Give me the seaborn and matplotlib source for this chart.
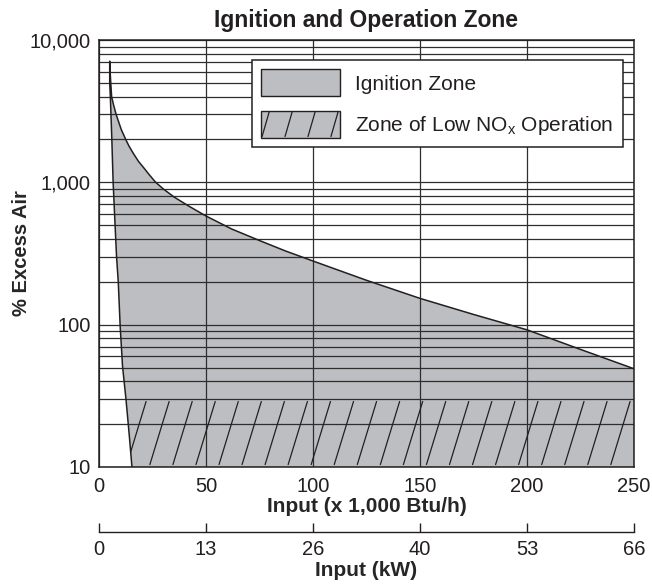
import numpy as np
import matplotlib
matplotlib.use("Agg")
import matplotlib.pyplot as plt
from matplotlib.patches import Patch, Rectangle
from matplotlib.lines import Line2D
from matplotlib.legend_handler import HandlerPatch
from matplotlib.ticker import FuncFormatter, NullFormatter, LogLocator, FixedLocator
import seaborn as sns

# --- data ---
# ignition zone, left boundary (bottom -> tip)
left_x = [15.4, 14.1, 12.6, 11.0, 9.9, 9.0, 8.2, 7.4, 6.6, 6.0, 5.3, 5.0, 5.0]
left_y = [10, 17, 30, 51, 97, 200, 300, 544, 1000, 2000, 4000, 5000, 7100]
# ignition zone, upper curve (tip -> right edge)
top_x = [5.0, 5.2, 5.5, 5.9, 6.8, 8.0, 10.4, 12.5, 14, 16, 18.5, 21, 23.5,
         26.5, 30, 35, 42, 50, 62, 75, 87, 100, 125, 150, 175, 200, 225, 250]
top_y = [7100, 6000, 5000, 4000, 3500, 3000, 2350, 2000, 1800, 1600, 1400,
         1260, 1130, 1000, 900, 790, 680, 580, 470, 390, 330, 280, 205, 153,
         118, 92, 67, 49]
# low NOx operating band (% excess air)
nox_y = [10, 30]

btu_ticks = [0, 50, 100, 150, 200, 250]
kw_labels = ["0", "13", "26", "40", "53", "66"]
y_ticks = [10, 100, 1000, 10000]

FILL = "#bdbec1"
INK = "#231f20"
GRID = "#2e2e2e"

sns.set_theme(style="white")
plt.rcParams["font.family"] = ["Liberation Sans", "DejaVu Sans"]
plt.rcParams["text.color"] = INK
plt.rcParams["mathtext.fontset"] = "custom"
plt.rcParams["mathtext.rm"] = "Liberation Sans"


class SlashHandler(HandlerPatch):
    # legend swatch with a few steep strokes like the chart hatch
    def create_artists(self, legend, orig_handle, xdescent, ydescent,
                       width, height, fontsize, trans):
        x0, y0 = -xdescent, -ydescent
        arts = [Rectangle((x0, y0), width, height, facecolor=FILL,
                          edgecolor=INK, lw=1.0, transform=trans)]
        for f in (0.0, 0.29, 0.58, 0.87):
            xb = x0 + (f + 0.01) * width
            arts.append(Line2D([xb, xb + 0.09 * width],
                               [y0 + 0.04 * height, y0 + 0.96 * height],
                               color=INK, lw=0.9, transform=trans))
        return arts


fig = plt.figure(figsize=(6.52, 5.85), dpi=100)
ax = fig.add_axes([99 / 652, 1 - 467 / 585, 535 / 652, 427 / 585])

# ignition zone polygon
poly_x = left_x + top_x[1:] + [250]
poly_y = left_y + top_y[1:] + [10]
zone = ax.fill(poly_x, poly_y, facecolor=FILL, edgecolor="none", zorder=1)[0]

# outline of the zone
edge_x = left_x + top_x[1:]
edge_y = left_y + top_y[1:]
sns.lineplot(x=edge_x, y=edge_y, sort=False, estimator=None, color=INK,
             lw=1.1, ax=ax, zorder=3)

# hatch of the low NOx band, clipped to the ignition zone
hatch_step = 10.77
hatch_dx = 9.0
y_lo, y_hi = nox_y[0] * 1.04, nox_y[1] / 1.04
for xt in np.arange(22.0, 250, hatch_step):
    ln, = ax.plot([xt - hatch_dx, xt], [y_lo, y_hi], color=INK, lw=0.9, zorder=3)
    ln.set_clip_path(zone)

ax.set_yscale("log")
ax.set_xlim(0, 250)
ax.set_ylim(10, 10000)
ax.set_xticks(btu_ticks)
ax.yaxis.set_major_locator(FixedLocator(y_ticks))
ax.yaxis.set_minor_locator(LogLocator(base=10, subs=np.arange(2, 10)))
ax.yaxis.set_minor_formatter(NullFormatter())
ax.yaxis.set_major_formatter(FuncFormatter(lambda v, p: f"{v:,.0f}"))

ax.set_axisbelow(False)
ax.grid(True, which="both", axis="y", color=GRID, lw=0.9, zorder=2)
ax.grid(True, which="major", axis="x", color=GRID, lw=0.9, zorder=2)

ax.tick_params(axis="both", which="both", length=0, labelsize=14.5,
               labelcolor=INK)
ax.tick_params(axis="x", pad=7)
ax.tick_params(axis="y", pad=6)
for s in ax.spines.values():
    s.set_color(INK)
    s.set_linewidth(1.1)
    s.set_zorder(4)

ax.set_title("Ignition and Operation Zone", fontsize=16.5, fontweight="bold",
             pad=9)
ax.set_ylabel("% Excess Air", fontsize=14.5, fontweight="bold", labelpad=-1)
ax.set_xlabel("Input (x 1,000 Btu/h)", fontsize=15, fontweight="bold",
              labelpad=1)

# secondary kW scale below
sec = ax.secondary_xaxis(-0.152)
sec.set_xticks(btu_ticks, labels=kw_labels)
sec.tick_params(axis="x", direction="in", length=6.5, width=1.0, color=INK,
                labelsize=14.5, labelcolor=INK, pad=6)
sec.spines["bottom"].set_color(INK)
sec.spines["bottom"].set_linewidth(1.0)
sec.set_xlabel("Input (kW)", fontsize=15, fontweight="bold", labelpad=1.5)

handles = [Patch(facecolor=FILL, edgecolor=INK, lw=1.0, label="Ignition Zone"),
           Patch(facecolor=FILL, edgecolor=INK, lw=1.0,
                 label="Zone of Low NO$_\\mathregular{x}$ Operation")]
leg = ax.legend(handles=handles, loc="upper right",
                bbox_to_anchor=(0.979, 0.953), borderaxespad=0,
                fontsize=15, frameon=True, fancybox=False, framealpha=1,
                edgecolor=INK, handlelength=3.8, handleheight=1.6,
                handletextpad=0.7, labelspacing=0.7, borderpad=0.45,
                handler_map={handles[1]: SlashHandler()})
leg.get_frame().set_linewidth(1.1)
leg.set_zorder(6)

fig.savefig("out.png", dpi=100)
